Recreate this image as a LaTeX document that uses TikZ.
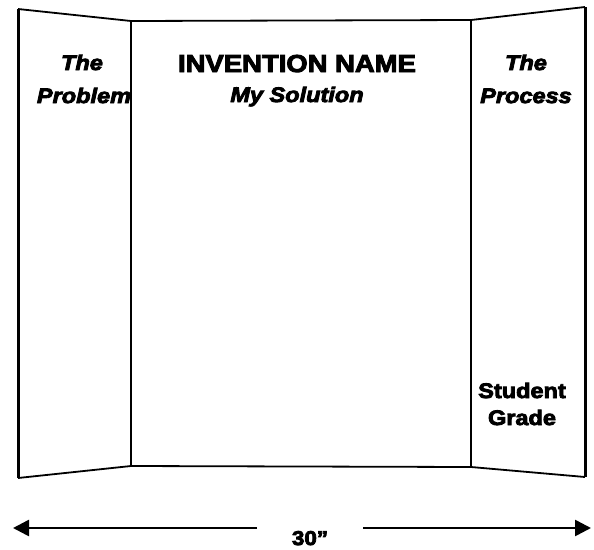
\documentclass[tikz,border=0pt]{standalone}
\usepackage{fontspec}
\newfontfamily\boardfont[FakeStretch=1.12,FakeBold=4]{Liberation Sans}
\usetikzlibrary{arrows.meta}
\begin{document}
\begin{tikzpicture}[x=1pt,y=-1pt,
  edge/.style={line width=1.8pt,line join=round},
  outer/.style={line width=3pt,line join=round},
  label/.style={inner sep=0pt,anchor=base,font=\boardfont\bfseries\itshape\fontsize{21}{24}\selectfont},
  plain/.style={inner sep=0pt,anchor=base,font=\boardfont\bfseries\fontsize{21}{24}\selectfont},
  dimline/.style={line width=2.6pt}]
\useasboundingbox (0,0) rectangle (594,549);
% corner coordinates
\coordinate (LT) at (18,9);
\coordinate (LB) at (18,478);
\coordinate (CLT) at (131,21);
\coordinate (CLB) at (131,466);
\coordinate (CRT) at (471,20);
\coordinate (CRB) at (471,467);
\coordinate (RT) at (585,7);
\coordinate (RB) at (585,477);
% panels
\draw[edge] (LT) -- (CLT) -- (CRT) -- (RT);
\draw[edge] (LB) -- (CLB) -- (CRB) -- (RB);
\draw[edge] (CLT) -- (CLB);
\draw[edge] (CRT) -- (CRB);
\draw[outer] (LT) -- (LB);
\draw[outer] (RT) -- (RB);
% texts
\node[label] (t1) at (82,70) {The};
\node[label] (t2) at (84,103) {Problem};
\node[label,font=\boardfont\bfseries\fontsize{24.5}{28}\selectfont] (t3) at (297,72) {INVENTION NAME};
\node[label] (t4) at (297,102) {My Solution};
\node[label] (t5) at (526,70) {The};
\node[label] (t6) at (526,103) {Process};
\node[plain] (t7) at (522,398) {Student};
\node[plain] (t8) at (522,425) {Grade};
% dimension arrow
\node[plain,font=\boardfont\bfseries\fontsize{20}{24}\selectfont] (dim) at (310,545) {30”};
\coordinate (AL) at (13,528);
\coordinate (AR) at (591,528);
\coordinate (ML) at (257,528);
\coordinate (MR) at (363,528);
\draw[dimline,-{Triangle[length=16pt,width=16pt]}] (ML) -- (AL);
\draw[dimline,-{Triangle[length=16pt,width=16pt]}] (MR) -- (AR);
\end{tikzpicture}
\end{document}
